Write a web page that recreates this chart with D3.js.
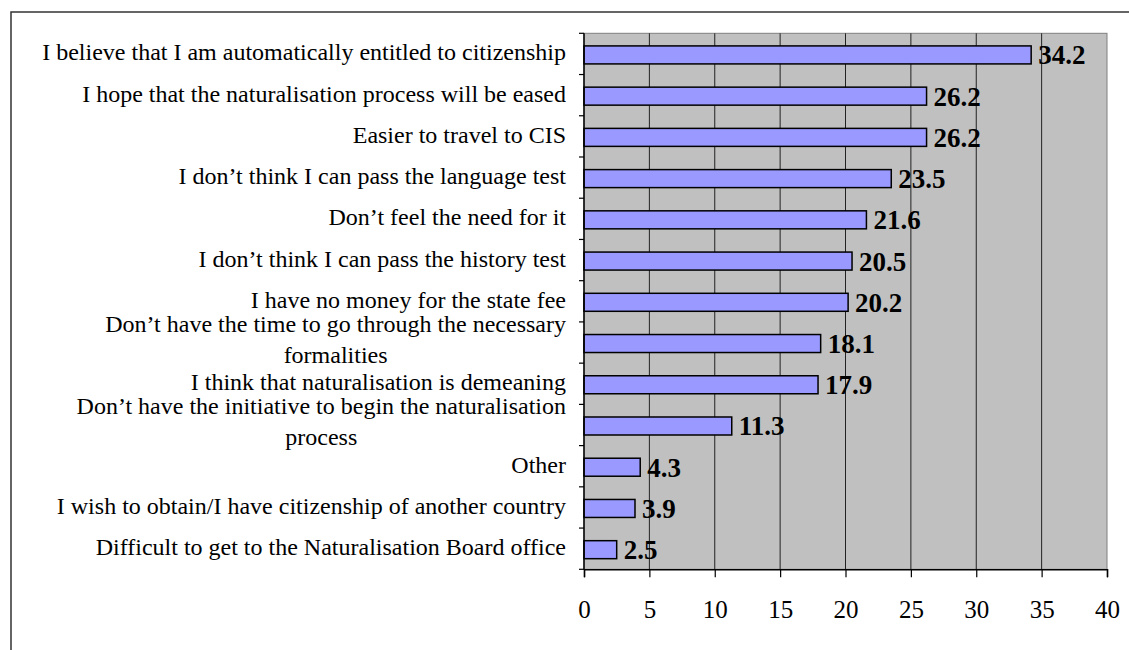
<!DOCTYPE html>
<html>
<head>
<meta charset="utf-8">
<script src="https://cdn.jsdelivr.net/npm/d3@7"></script>
<style>
html,body{margin:0;padding:0;background:#fff;}
svg{display:block;}
</style>
</head>
<body>
<svg id="chart" width="1129" height="650"></svg>
<script>
const categories = [
  ["I believe that I am automatically entitled to citizenship"],
  ["I hope that the naturalisation process will be eased"],
  ["Easier to travel to CIS"],
  ["I don\u2019t think I can pass the language test"],
  ["Don\u2019t feel the need for it"],
  ["I don\u2019t think I can pass the history test"],
  ["I have no money for the state fee"],
  ["Don\u2019t have the time to go through the necessary", "formalities"],
  ["I think that naturalisation is demeaning"],
  ["Don\u2019t have the initiative to begin the naturalisation", "process"],
  ["Other"],
  ["I wish to obtain/I have citizenship of another country"],
  ["Difficult to get to the Naturalisation Board office"]
];
const values = [34.2, 26.2, 26.2, 23.5, 21.6, 20.5, 20.2, 18.1, 17.9, 11.3, 4.3, 3.9, 2.5];
const xTicks = [0, 5, 10, 15, 20, 25, 30, 35, 40];

(function () {
const svg = d3.select("#chart");
const FONT = "'Liberation Serif','Times New Roman',serif";
const pL = 584, pR = 1107, pT = 33.3, pB = 569.3;

const keys = categories.map((c, i) => i);
const x = d3.scaleLinear().domain([0, 40]).range([pL, pR]);
const y = d3.scaleBand().domain(keys).range([pT, pB]).padding(0);

// outer frame
svg.append("path")
  .attr("d", `M11,650 L11,12 L1129,12`)
  .attr("fill", "none").attr("stroke", "#333").attr("stroke-width", 1.5);

// plot background
svg.append("rect")
  .attr("x", pL).attr("y", pT)
  .attr("width", pR - pL).attr("height", pB - pT)
  .attr("fill", "#C0C0C0")
  .attr("stroke", "#808080").attr("stroke-width", 1);

// gridlines
svg.append("g").selectAll("line")
  .data(xTicks.filter(t => t > 0 && t < 40))
  .join("line")
  .attr("x1", d => x(d)).attr("x2", d => x(d))
  .attr("y1", pT).attr("y2", pB)
  .attr("stroke", "#222").attr("stroke-width", 1);

// bars
const barH = 18;
svg.append("g").selectAll("rect")
  .data(values)
  .join("rect")
  .attr("x", x(0))
  .attr("y", (d, i) => y(i) + y.bandwidth() / 2 + 1 - barH / 2)
  .attr("width", d => x(d) - x(0))
  .attr("height", barH)
  .attr("fill", "#9999FF")
  .attr("stroke", "#000").attr("stroke-width", 1.5);

// value labels
svg.append("g").selectAll("text")
  .data(values)
  .join("text")
  .attr("x", d => x(d) + 7)
  .attr("y", (d, i) => y(i) + y.bandwidth() / 2 + 1 + 9.5)
  .attr("font-family", FONT).attr("font-size", 27).attr("font-weight", "bold")
  .attr("fill", "#000")
  .text(d => d.toFixed(1));

// left axis line and ticks at band boundaries
svg.append("line")
  .attr("x1", pL).attr("x2", pL).attr("y1", pT).attr("y2", pB)
  .attr("stroke", "#000").attr("stroke-width", 1.5);
const bounds = keys.map(k => y(k)).concat([y(keys[keys.length - 1]) + y.bandwidth()]);
svg.append("g").selectAll("line")
  .data(bounds)
  .join("line")
  .attr("x1", pL - 5).attr("x2", pL)
  .attr("y1", d => d).attr("y2", d => d)
  .attr("stroke", "#000").attr("stroke-width", 1.2);

// bottom axis
const xAxis = d3.axisBottom(x).tickValues(xTicks).tickSize(8).tickPadding(23).tickFormat(d3.format("d"));
const gx = svg.append("g").attr("transform", `translate(0,${pB})`).call(xAxis);
gx.select(".domain").attr("stroke", "#000").attr("stroke-width", 1.5);
gx.selectAll(".tick line").attr("stroke", "#000").attr("stroke-width", 1.2);
gx.selectAll(".tick text")
  .attr("font-family", FONT).attr("font-size", 25).attr("fill", "#000");

// category labels
const labelRight = 566;
const lineGap = 31;
const FS = 24;
const lg = svg.append("g");
categories.forEach((lines, i) => {
  const cy = y(i) + y.bandwidth() / 2;
  const t = lg.append("text")
    .attr("font-family", FONT).attr("font-size", FS).attr("fill", "#000");
  if (lines.length === 1) {
    t.attr("x", labelRight).attr("y", cy + 6.5).attr("text-anchor", "end").text(lines[0]);
  } else {
    const tmp = lg.append("text").attr("font-family", FONT).attr("font-size", FS).text(lines[0]);
    const w = tmp.node().getComputedTextLength();
    tmp.remove();
    const cx = labelRight - w / 2;
    const y0 = cy - 11;
    t.attr("text-anchor", "middle");
    lines.forEach((ln, j) => {
      t.append("tspan").attr("x", cx).attr("y", y0 + j * lineGap).text(ln);
    });
  }
});
})();
</script>
</body>
</html>
